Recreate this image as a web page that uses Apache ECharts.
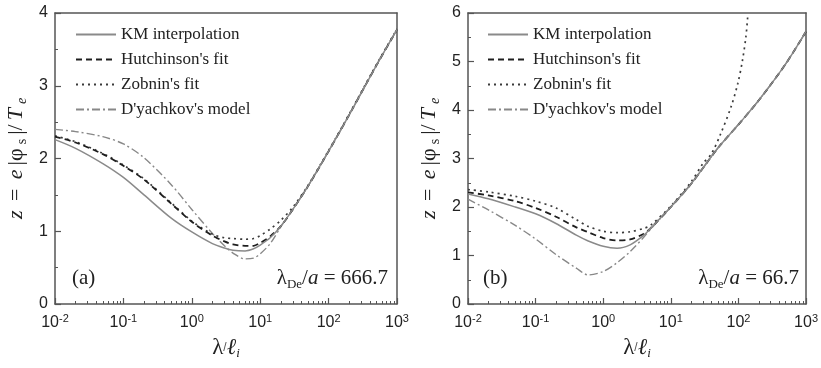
<!DOCTYPE html>
<html><head><meta charset="utf-8">
<script src="https://cdn.jsdelivr.net/npm/echarts@6/dist/echarts.min.js"></script>
<style>html,body{margin:0;padding:0;background:#fff}#chart{width:821px;height:368px}</style>
</head><body><div id="chart"></div>
<script>
// Panel (a): lambda_De / a = 666.7
const xA      = [0.01, 0.02, 0.05, 0.1, 0.2, 0.5, 1, 2, 3, 4, 6, 8, 10, 14, 20, 30, 50, 100, 200, 500, 1000];
const kmA     = [2.26, 2.14, 1.93, 1.74, 1.50, 1.18, 0.99, 0.83, 0.77, 0.74, 0.73, 0.76, 0.81, 0.91, 1.07, 1.30, 1.62, 2.10, 2.60, 3.28, 3.77];
const hutchA  = [2.30, 2.22, 2.06, 1.90, 1.71, 1.38, 1.13, 0.94, 0.86, 0.82, 0.80, 0.80, 0.84, 0.93, 1.07, 1.30, 1.62, 2.10, 2.60, 3.28, 3.77];
const zobninA = [2.31, 2.23, 2.07, 1.91, 1.72, 1.39, 1.14, 0.96, 0.91, 0.90, 0.89, 0.90, 0.94, 1.03, 1.15, 1.33, 1.63, 2.11, 2.61, 3.29, 3.78];
const dyachA  = [2.40, 2.37, 2.30, 2.20, 2.01, 1.64, 1.30, 0.97, 0.80, 0.70, 0.62, 0.63, 0.69, 0.83, 1.06, 1.30, 1.62, 2.10, 2.60, 3.28, 3.77];

// Panel (b): lambda_De / a = 66.7
const xB      = [0.01, 0.02, 0.05, 0.1, 0.2, 0.4, 0.6, 1, 1.6, 2.5, 4, 5, 10, 20, 50, 100, 200, 500, 1000];
const kmB     = [2.27, 2.17, 2.00, 1.86, 1.66, 1.42, 1.30, 1.19, 1.15, 1.22, 1.42, 1.56, 2.00, 2.48, 3.22, 3.70, 4.20, 4.95, 5.62];
const hutchB  = [2.30, 2.24, 2.12, 1.98, 1.80, 1.58, 1.48, 1.36, 1.31, 1.33, 1.45, 1.56, 2.00, 2.48, 3.22, 3.70, 4.20, 4.95, 5.62];
const dyachB  = [2.16, 1.94, 1.62, 1.34, 1.02, 0.74, 0.60, 0.67, 0.85, 1.08, 1.38, 1.54, 2.00, 2.48, 3.22, 3.70, 4.20, 4.95, 5.62];
const xZobB   = [0.01, 0.02, 0.05, 0.1, 0.2, 0.4, 0.6, 1, 1.6, 2.5, 4, 5, 10, 20, 30, 40, 55, 78, 98, 115, 129, 137];
const zobninB = [2.36, 2.31, 2.22, 2.12, 1.98, 1.74, 1.60, 1.50, 1.47, 1.49, 1.56, 1.62, 2.02, 2.52, 2.90, 3.10, 3.52, 4.07, 4.55, 5.03, 5.51, 5.92];

const seriesNames = ['KM interpolation', "Hutchinson's fit", "Zobnin's fit", "D'yachkov's model"];
const yTicksA = { min: 0, max: 4, interval: 1 };
const yTicksB = { min: 0, max: 6, interval: 1 };
const xRange = { min: 0.01, max: 1000 };

// minor log ticks at 2..9 within each decade
const minorX = [];
for (let e = -2; e < 3; e++) for (let m = 2; m <= 9; m++) minorX.push(+(m * Math.pow(10, e)).toPrecision(3));

const serif = '"Liberation Serif","DejaVu Serif",serif';
const sans = '"Liberation Sans",Arial,sans-serif';
const ink = '#222';
const axisInk = '#555';
const frameLine = { show: true, lineStyle: { color: axisInk, width: 1.5 } };

const styles = [
  { color: '#8a8a8a', width: 1.5, type: 'solid' },
  { color: '#1e1e1e', width: 1.8, type: [6, 4] },
  { color: '#3a3a3a', width: 1.7, type: [2, 4] },
  { color: '#888888', width: 1.4, type: [8, 3, 2, 3] }
];

function pairs(xs, ys) { return xs.map((x, i) => [x, ys[i]]); }

function line(name, idx, data, k) {
  return {
    type: 'line', name, xAxisIndex: idx, yAxisIndex: idx, data,
    symbol: 'none', smooth: 0.3,
    lineStyle: styles[k], itemStyle: { color: styles[k].color },
    z: 3 + (3 - k)
  };
}

function mainX(grid) {
  return {
    type: 'log', logBase: 10, gridIndex: grid, min: xRange.min, max: xRange.max, position: 'bottom',
    axisLine: frameLine,
    axisTick: { show: true, inside: true, length: 6, lineStyle: { color: axisInk, width: 1.2 } },
    splitLine: { show: false },
    axisLabel: {
      margin: 9, color: ink,
      formatter: v => '{b|10}{s|' + Math.round(Math.log10(v)) + '}',
      rich: {
        b: { fontFamily: sans, fontSize: 16, color: ink, lineHeight: 20 },
        s: { fontFamily: sans, fontSize: 11, color: ink, verticalAlign: 'top', lineHeight: 11 }
      }
    },
    name: '{g|λ}/{i|ℓ}{sub|i}', nameLocation: 'middle', nameGap: 32,
    nameTextStyle: {
      rich: {
        g: { fontFamily: serif, fontSize: 23, color: ink, lineHeight: 24 },
        i: { fontFamily: serif, fontSize: 23, fontStyle: 'italic', color: ink, lineHeight: 24 },
        sub: { fontFamily: serif, fontSize: 13, fontStyle: 'italic', color: ink, verticalAlign: 'bottom', lineHeight: 12 }
      }
    }
  };
}

// companion axis carrying only the short ticks between decades
function minorXAxis(grid) {
  return {
    type: 'log', logBase: 10, gridIndex: grid, min: xRange.min, max: xRange.max, position: 'bottom',
    axisLine: { show: true, lineStyle: { opacity: 0 } },
    axisLabel: { show: false }, splitLine: { show: false },
    axisTick: { show: true, inside: true, length: 3, customValues: minorX, lineStyle: { color: axisInk, width: 1 } }
  };
}

// plain top edge of the frame
function topX(grid) {
  return {
    type: 'log', logBase: 10, gridIndex: grid, min: xRange.min, max: xRange.max, position: 'top',
    axisLine: frameLine, axisTick: { show: false }, axisLabel: { show: false }, splitLine: { show: false }
  };
}

const yNameRich = {
  i: { fontFamily: serif, fontSize: 22, fontStyle: 'italic', color: ink, lineHeight: 26, padding: [0, 2] },
  r: { fontFamily: serif, fontSize: 22, color: ink, lineHeight: 26, padding: [0, 2] },
  s: { fontFamily: serif, fontSize: 14, color: ink, verticalAlign: 'bottom', lineHeight: 16, padding: [0, 2] },
  se: { fontFamily: serif, fontSize: 14, fontStyle: 'italic', color: ink, verticalAlign: 'bottom', lineHeight: 16, padding: [0, 2] }
};
const yName = '{i|z}{r| = }{i|e}{r||φ}{s|s}{r||/}{i|T}{se|e}';

function yAx(grid, t) {
  return {
    type: 'value', gridIndex: grid, min: t.min, max: t.max, interval: t.interval, position: 'left',
    axisLine: frameLine,
    axisTick: { show: true, inside: true, length: 6, lineStyle: { color: axisInk, width: 1.2 } },
    minorTick: { show: true, splitNumber: 2, length: 3, lineStyle: { color: axisInk, width: 1 } },
    splitLine: { show: false }, minorSplitLine: { show: false },
    axisLabel: { fontFamily: sans, fontSize: 16, color: ink, margin: 7 },
    name: yName, nameLocation: 'middle', nameGap: 26,
    nameTextStyle: { rich: yNameRich }
  };
}

// plain right edge of the frame
function rightY(grid, t) {
  return {
    type: 'value', gridIndex: grid, min: t.min, max: t.max, interval: t.interval, position: 'right',
    axisLine: frameLine, axisTick: { show: false }, axisLabel: { show: false }, splitLine: { show: false }
  };
}

function legend(left) {
  return {
    orient: 'vertical', left, top: 26, padding: 0,
    itemWidth: 40, itemHeight: 14, itemGap: 8,
    itemStyle: { opacity: 0 },
    data: seriesNames,
    textStyle: { fontFamily: serif, fontSize: 17, color: ink, lineHeight: 14 }
  };
}

const annRich = {
  g: { fontFamily: serif, fontSize: 21, fill: ink, lineHeight: 26 },
  sub: { fontFamily: serif, fontSize: 13, fill: ink, verticalAlign: 'bottom', lineHeight: 12 },
  i: { fontFamily: serif, fontSize: 21, fontStyle: 'italic', fill: ink, lineHeight: 26 },
  n: { fontFamily: serif, fontSize: 21, fill: ink, lineHeight: 26 }
};

function ann(x, text, align) {
  return {
    type: 'text', x, y: 278, z: 10,
    style: { text, rich: annRich, fontFamily: serif, fontSize: 21, fill: ink, align, verticalAlign: 'middle' }
  };
}

const option = {
  animation: false,
  backgroundColor: '#fff',
  grid: [
    { left: 55, top: 13, width: 342, height: 291, show: false, containLabel: false },
    { left: 468, top: 13, width: 341, height: 291, show: false, containLabel: false }
  ],
  xAxis: [mainX(0), mainX(1), minorXAxis(0), minorXAxis(1), topX(0), topX(1)],
  yAxis: [yAx(0, yTicksA), yAx(1, yTicksB), rightY(0, yTicksA), rightY(1, yTicksB)],
  legend: [legend(75), legend(487)],
  series: [
    line(seriesNames[0], 0, pairs(xA, kmA), 0),
    line(seriesNames[1], 0, pairs(xA, hutchA), 1),
    line(seriesNames[2], 0, pairs(xA, zobninA), 2),
    line(seriesNames[3], 0, pairs(xA, dyachA), 3),
    line(seriesNames[0], 1, pairs(xB, kmB), 0),
    line(seriesNames[1], 1, pairs(xB, hutchB), 1),
    line(seriesNames[2], 1, pairs(xZobB, zobninB), 2),
    line(seriesNames[3], 1, pairs(xB, dyachB), 3)
  ],
  graphic: [
    ann(72, '{n|(a)}', 'left'),
    ann(388, '{g|λ}{sub|De}{n|/}{i|a}{n| = 666.7}', 'right'),
    ann(483, '{n|(b)}', 'left'),
    ann(799, '{g|λ}{sub|De}{n|/}{i|a}{n| = 66.7}', 'right')
  ]
};

const chart = echarts.init(document.getElementById('chart'), null, { renderer: 'canvas' });
chart.setOption(option);
</script>
</body></html>
